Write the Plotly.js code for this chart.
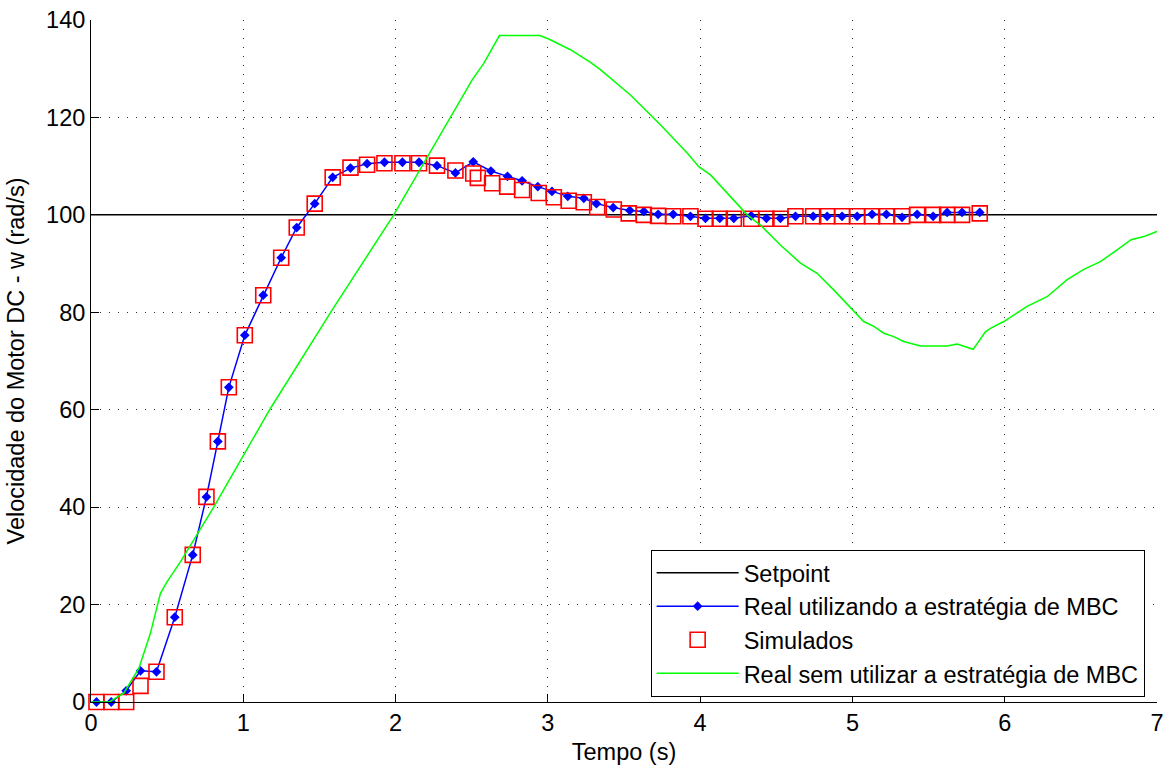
<!DOCTYPE html>
<html>
<head>
<meta charset="utf-8">
<script src="https://cdn.plot.ly/plotly-3.0.1.min.js"></script>
<style>html,body{margin:0;padding:0;background:#fff;}#chart{width:1164px;height:768px;}</style>
</head>
<body>
<div id="chart"></div>
<script>
// Setpoint
const tSetpoint = [0, 7];
const vSetpoint = [100, 100];

// Real utilizando a estratégia de MBC
const tReal = [0.036,0.133,0.231,0.325,0.430,0.550,0.668,0.758,0.833,0.905,1.010,1.131,1.249,1.351,1.469,1.587,1.704,1.813,1.927,2.045,2.154,2.272,2.393,2.510,2.626,2.735,2.831,2.934,3.027,3.131,3.236,3.319,3.429,3.538,3.630,3.724,3.823,3.936,4.035,4.129,4.221,4.335,4.435,4.527,4.626,4.742,4.834,4.932,5.031,5.129,5.223,5.326,5.425,5.530,5.622,5.720,5.836];
const vReal = [0,0,2.3,6.4,6.2,17.4,30.2,42.1,53.5,64.6,75.3,83.5,91.2,97.4,102.3,107.7,109.6,110.5,110.8,110.8,110.8,110.1,108.6,110.9,109.0,107.9,107.0,105.8,104.8,103.8,103.4,102.3,101.5,100.9,100.7,100.1,100.1,99.7,99.3,99.3,99.3,99.8,99.3,99.3,99.7,99.7,99.7,99.7,99.7,100.1,100.1,99.5,100.1,99.7,100.5,100.5,100.5];

// Simulados
const tSim = [0.036,0.133,0.231,0.325,0.430,0.550,0.668,0.758,0.833,0.905,1.010,1.131,1.249,1.351,1.469,1.587,1.704,1.813,1.927,2.045,2.154,2.272,2.393,2.510,2.540,2.634,2.733,2.831,2.940,3.039,3.137,3.236,3.324,3.433,3.531,3.630,3.724,3.823,3.936,4.035,4.129,4.221,4.335,4.435,4.527,4.626,4.742,4.834,4.932,5.031,5.129,5.223,5.326,5.425,5.530,5.622,5.720,5.836];
const vSim = [0,0,0,3.3,6.2,17.4,30.2,42.1,53.5,64.6,75.3,83.5,91.2,97.4,102.3,107.7,109.7,110.3,110.6,110.6,110.6,110.1,109.1,108.5,107.6,106.5,105.8,105.1,104.5,103.6,102.9,102.6,101.6,101.1,100.3,100.0,99.8,99.7,99.7,99.2,99.2,99.2,99.2,99.2,99.2,99.7,99.7,99.7,99.7,99.7,99.7,99.7,99.7,100.0,100.0,100.0,100.0,100.3];

// Real sem utilizar a estratégia de MBC
const tNoMBC = [0,0.12,0.215,0.314,0.39,0.456,0.5,0.588,0.675,0.806,1.179,1.584,1.988,2.273,2.503,2.579,2.682,2.947,3.006,3.148,3.28,3.345,3.433,3.542,3.63,3.739,3.915,3.991,4.068,4.221,4.309,4.396,4.527,4.659,4.768,4.877,5.009,5.074,5.14,5.206,5.271,5.337,5.446,5.622,5.687,5.742,5.793,5.873,5.906,5.994,6.147,6.278,6.41,6.519,6.628,6.738,6.83,6.92,7.0];
const vNoMBC = [0,0,1.8,6.9,14.1,22.3,24.7,28.8,33.3,40,60.3,80.5,100,115.4,127.7,131.1,136.8,136.8,136.1,133.9,131.3,129.8,127.4,124.6,121.9,118.5,112.7,109.9,108.2,103.1,100.0,97.9,93.8,90.1,88.0,84.6,80.3,78.1,77.1,75.7,75.0,74.0,73.1,73.1,73.5,73.0,72.4,76.0,76.7,78.1,81.2,83.2,86.7,88.8,90.4,92.8,94.9,95.6,96.6];

const xTicks = [0,1,2,3,4,5,6,7];
const yTicks = [0,20,40,60,80,100,120,140];

const names = ['Setpoint','Real utilizando a estratégia de MBC','Simulados','Real sem utilizar a estratégia de MBC'];
const FONT = 'Liberation Sans, Arial, sans-serif';
const FS = 23.5;

const traces = [
  {x: tSetpoint, y: vSetpoint, name: names[0], mode: 'lines', line: {color: '#000000', width: 1.5}},
  {x: tReal, y: vReal, name: names[1], mode: 'lines+markers', line: {color: '#0000ff', width: 1.5},
   marker: {symbol: 'diamond', size: 7.5, color: '#0000ff'}, cliponaxis: false},
  {x: tSim, y: vSim, name: names[2], mode: 'markers',
   marker: {symbol: 'square-open', size: 15, color: '#ff0000', line: {width: 1.6, color: '#ff0000'}}, cliponaxis: false},
  {x: tNoMBC, y: vNoMBC, name: names[3], mode: 'lines', line: {color: '#00ff00', width: 1.5}}
];

const axisCommon = {
  showline: true, linecolor: '#000', linewidth: 1,
  ticks: 'inside', ticklen: 8, tickcolor: '#000', tickwidth: 1,
  showgrid: true, gridcolor: '#333', gridwidth: 1, griddash: '1px,8px',
  zeroline: false, mirror: false,
  tickfont: {family: FONT, size: FS, color: '#000'}
};

const layout = {
  width: 1164, height: 768,
  margin: {l: 91, r: 7, t: 20, b: 66},
  paper_bgcolor: '#fff', plot_bgcolor: '#fff',
  showlegend: true,
  font: {family: FONT, size: FS, color: '#000'},
  xaxis: Object.assign({}, axisCommon, {
    range: [0, 7], tickvals: xTicks, ticktext: xTicks.map(String),
    title: {text: 'Tempo (s)', font: {family: FONT, size: FS, color: '#000'}, standoff: 8}
  }),
  yaxis: Object.assign({}, axisCommon, {
    range: [0, 140], tickvals: yTicks, ticktext: yTicks.map(String),
    title: {text: 'Velocidade do Motor DC - w (rad/s)', font: {family: FONT, size: FS, color: '#000'}, standoff: 14}
  }),
  legend: {
    x: 0.525, y: 0.223, xanchor: 'left', yanchor: 'top',
    bgcolor: '#fff', bordercolor: '#000', borderwidth: 1,
    font: {family: FONT, size: FS, color: '#000'},
    itemwidth: 82, tracegroupgap: 0
  }
};

Plotly.newPlot('chart', traces, layout, {staticPlot: true, displayModeBar: false});
</script>
</body>
</html>
